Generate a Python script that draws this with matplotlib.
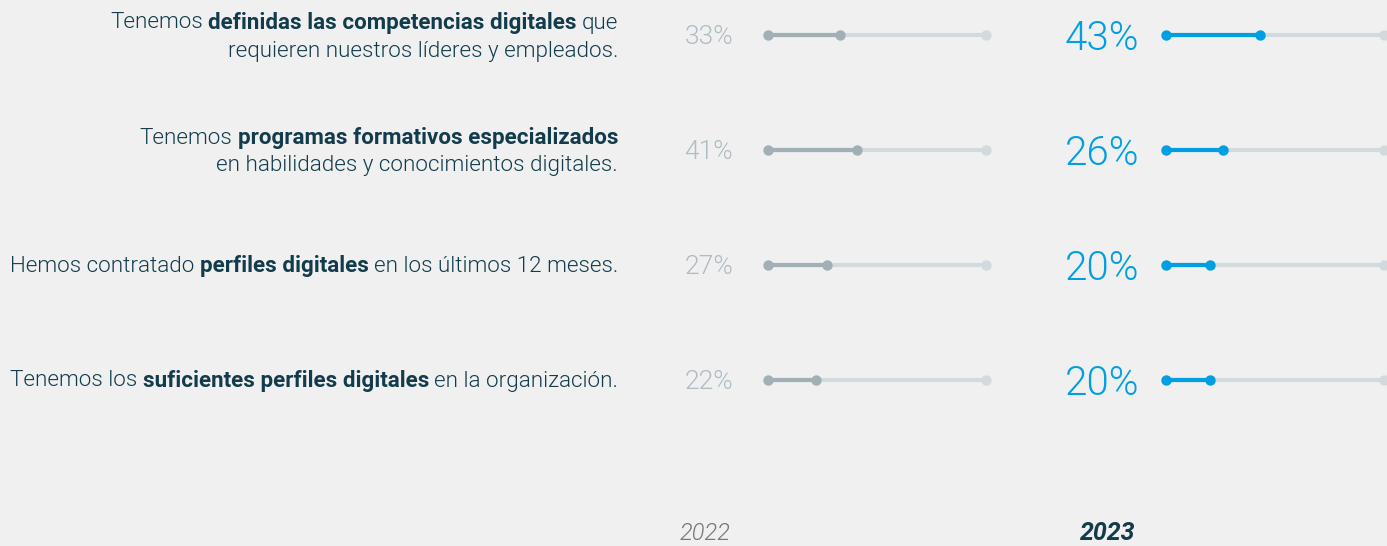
import matplotlib
matplotlib.use("Agg")
import matplotlib.pyplot as plt

# Datos
etiquetas = [
    [[("Tenemos ", "normal"), ("definidas las competencias digitales", "bold"), (" que", "normal")],
     [("requieren nuestros líderes y empleados.", "normal")]],
    [[("Tenemos ", "normal"), ("programas formativos especializados", "bold")],
     [("en habilidades y conocimientos digitales.", "normal")]],
    [[("Hemos contratado ", "normal"), ("perfiles digitales", "bold"), (" en los últimos 12 meses.", "normal")]],
    [[("Tenemos los ", "normal"), ("suficientes perfiles digitales", "bold"), (" en la organización.", "normal")]],
]
valores_2022 = [33, 41, 27, 22]
valores_2023 = [43, 26, 20, 20]
anios = ["2022", "2023"]

FONDO = "#f0f0f0"
TEXTO = "#123c4c"
GRIS_OSCURO = "#a2afb5"
GRIS_CLARO = "#d2dadd"
GRIS_TEXTO = "#aebcc3"
AZUL = "#009fe3"

W, H = 1387, 546
fig = plt.figure(figsize=(W / 100, H / 100), dpi=100, facecolor=FONDO)

fuente_texto = "Roboto"
fuente_num = "Roboto"

# posiciones verticales (pixeles) de cada fila
fila_y0, paso = 35, 115
ylim = ((H - fila_y0) / paso, -fila_y0 / paso)


def eje_barras(x0, x1):
    ax = fig.add_axes([x0 / W, 0, (x1 - x0) / W, 1])
    ax.set_xlim(0, 100)
    ax.set_ylim(*ylim)
    ax.axis("off")
    return ax


ax22 = eje_barras(768, 986)
ax23 = eje_barras(1166, 1384)

for ax, vals, color in [(ax22, valores_2022, GRIS_OSCURO), (ax23, valores_2023, AZUL)]:
    for i, v in enumerate(vals):
        ax.plot([0, 100], [i, i], color=GRIS_CLARO, lw=3, solid_capstyle="round", zorder=1)
        ax.plot([100], [i], "o", color=GRIS_CLARO, ms=7.5, mew=0, zorder=2, clip_on=False)
        ax.plot([0, v], [i, i], color=color, lw=3, zorder=3, solid_capstyle="round")
        ax.plot([0, v], [i, i], "o", color=color, ms=7.5, mew=0, zorder=4, clip_on=False)

# porcentajes
for i, (a, b) in enumerate(zip(valores_2022, valores_2023)):
    y = 1 - (fila_y0 + paso * i) / H
    fig.text(733 / W, y - 2 / H, f"{a}%", ha="right", va="center", fontsize=19,
             color=GRIS_TEXTO, family=fuente_num, fontweight=300)
    fig.text(1139 / W, y - 4 / H, f"{b}%", ha="right", va="center", fontsize=29,
             color=AZUL, family=fuente_num, fontweight=300)

# etiquetas con partes en negrita
fig.canvas.draw()
renderer = fig.canvas.get_renderer()
x_der = 618
espacio = 5
for i, lineas in enumerate(etiquetas):
    yc = fila_y0 + paso * i
    n = len(lineas)
    for j, partes in enumerate(lineas):
        if n == 2:
            ypix = yc - 12 + 28 * j
        else:
            ypix = yc + 1
        x = x_der
        for texto, peso in reversed(partes):
            t = texto.strip()
            obj = fig.text(x / W, 1 - ypix / H, t, ha="right", va="center",
                           fontsize=16.1, color=TEXTO, family=fuente_texto,
                           fontweight=peso if peso == "bold" else 300)
            bb = obj.get_window_extent(renderer)
            x = x - bb.width - espacio

# años
fig.text(705 / W, 1 - 533 / H, anios[0], ha="center", va="center", fontsize=17,
         color="#777777", style="italic", family=fuente_texto, fontweight=300)
fig.text(1108 / W, 1 - 533 / H, anios[1], ha="center", va="center", fontsize=18,
         color=TEXTO, style="italic", fontweight="bold", family=fuente_texto)

fig.savefig("out.png", dpi=100, facecolor=FONDO)
